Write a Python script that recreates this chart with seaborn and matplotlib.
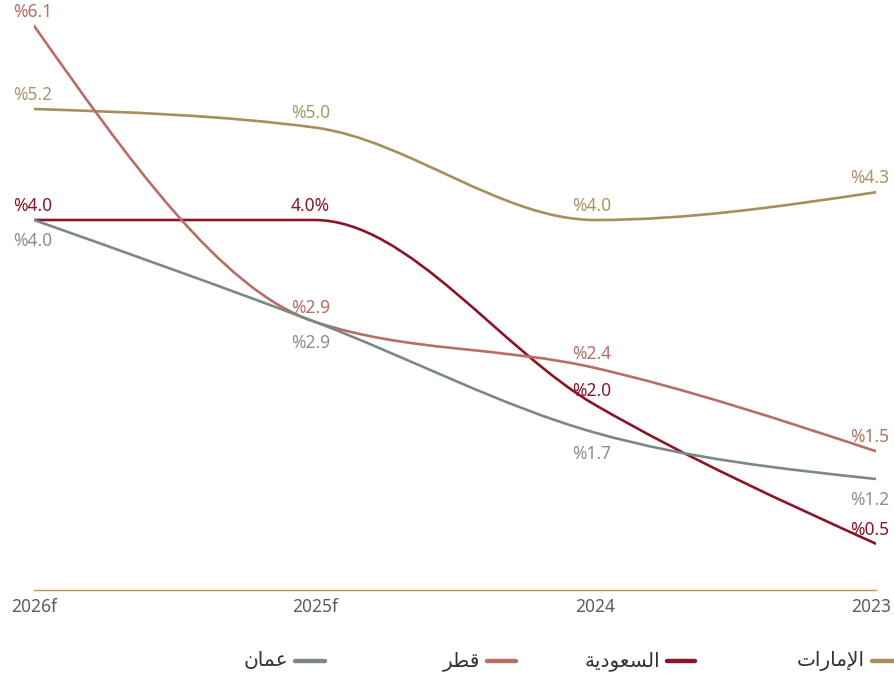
import numpy as np
import pandas as pd
import seaborn as sns
import matplotlib.pyplot as plt
import matplotlib.transforms as mtransforms
from matplotlib.path import Path
from matplotlib.patches import PathPatch
from matplotlib.lines import Line2D

## data (left to right as in the chart)
years = ["2026f", "2025f", "2024", "2023"]
uae = [5.2, 5.0, 4.0, 4.3]
saudi = [4.0, 4.0, 2.0, 0.5]
qatar = [6.1, 2.9, 2.4, 1.5]
oman = [4.0, 2.9, 1.7, 1.2]

# legend names, written in presentation forms (visual order) so matplotlib shows them joined
names = {
    "uae": "\uFE95\uFE8D\uFEAD\uFE8E\uFEE3\uFEF9\uFE8D",      # الإمارات
    "saudi": "\uFE94\uFEF3\uFEA9\uFEEE\uFECC\uFEB4\uFEDF\uFE8D",  # السعودية
    "qatar": "\uFEAE\uFEC4\uFED7",                         # قطر
    "oman": "\uFEE5\uFE8E\uFEE4\uFECB",                    # عمان
}
line_cols = {"uae": "#a58f5c", "saudi": "#8a1526", "qatar": "#b76e67", "oman": "#7a8a83"}
text_cols = {"uae": "#a99766", "saudi": "#8a1526", "qatar": "#b76e67", "oman": "#87928d"}

series = {"uae": uae, "saudi": saudi, "qatar": qatar, "oman": oman}
# label above (+) or below (-) each point
label_pos = {
    "uae": [1, 1, 1, 1],
    "saudi": [1, 1, 1, 1],
    "qatar": [1, 1, 1, 1],
    "oman": [-1, -1, -1, -1],
}

df = pd.concat([pd.DataFrame({"pos": range(len(years)), "value": v, "country": k})
                for k, v in series.items()])

sns.set_theme(style="white")
plt.rcParams['font.family'] = ['Noto Sans', 'DejaVu Sans']


def monotone_tangents(y):
    # d3 curveMonotoneX tangents, unit spacing
    y = np.asarray(y, float)
    n = len(y)
    t = np.zeros(n)
    for i in range(1, n - 1):
        s0, s1 = y[i] - y[i - 1], y[i + 1] - y[i]
        p = (s0 + s1) / 2
        t[i] = (np.sign(s0) + np.sign(s1)) * min(abs(s0), abs(s1), 0.5 * abs(p))
    t[0] = (3 * (y[1] - y[0]) - t[1]) / 2
    t[-1] = (3 * (y[-1] - y[-2]) - t[-2]) / 2
    return t


def smooth_path(y):
    t = monotone_tangents(y)
    verts = [(0, y[0])]
    codes = [Path.MOVETO]
    for i in range(len(y) - 1):
        verts += [(i + 1 / 3, y[i] + t[i] / 3), (i + 1 - 1 / 3, y[i + 1] - t[i + 1] / 3), (i + 1, y[i + 1])]
        codes += [Path.CURVE4] * 3
    return Path(verts, codes)


fig = plt.figure(figsize=(8.94, 6.76), dpi=100)
ax = fig.add_axes([34 / 894, 86 / 676, 842 / 894, 592 / 676])

# register the points with seaborn (curves are drawn below)
sns.lineplot(data=df, x="pos", y="value", hue="country", palette=line_cols,
             linewidth=0, legend=False, ax=ax)

for k, v in series.items():
    ax.add_patch(PathPatch(smooth_path(v), facecolor="none", edgecolor=line_cols[k],
                           lw=1.9, capstyle="round", joinstyle="round"))
    for i, val in enumerate(v):
        txt = f"%{val:.1f}"
        if k == "saudi" and i == 1:
            txt = f"{val:.1f}%"
        off = 14 if label_pos[k][i] > 0 else -21
        dx = -1 if i == 0 else -4
        if i == len(v) - 1:
            dx = -6
        ax.annotate(txt, (i, val), xytext=(dx, off), textcoords="offset pixels",
                    ha="center", va="center", fontsize=12.5, color=text_cols[k],
                    annotation_clip=False)

ax.set_xlim(0, 3)
ax.set_ylim(0, 6.4)
ax.set_xticks(range(len(years)))
ax.set_xticklabels(years, fontsize=12.5, color="#5c5c5c")
ax.set_yticks([])
ax.tick_params(axis="x", length=0, pad=6)
# keep the last year label inside the picture
last = ax.get_xticklabels()[-1]
last.set_transform(last.get_transform() + mtransforms.ScaledTranslation(-5 / 100, 0, fig.dpi_scale_trans))
ax.set_xlabel("")
ax.set_ylabel("")
for s in ["top", "right", "left"]:
    ax.spines[s].set_visible(False)
ax.spines["bottom"].set_color("#b59c50")
ax.spines["bottom"].set_linewidth(1)

# legend, right to left
leg_items = [("uae", 872, 894), ("saudi", 667, 695), ("qatar", 487, 516), ("oman", 295, 325)]
ly = (676 - 661) / 676
for k, x0, x1 in leg_items:
    fig.add_artist(Line2D([x0 / 894, x1 / 894], [ly, ly], color=line_cols[k], lw=3.2,
                          transform=fig.transFigure))
    fig.text((x0 - 7) / 894, ly, names[k], ha="right", va="center", fontsize=14.5,
             color="#333333")

fig.savefig("out.png", dpi=100)
